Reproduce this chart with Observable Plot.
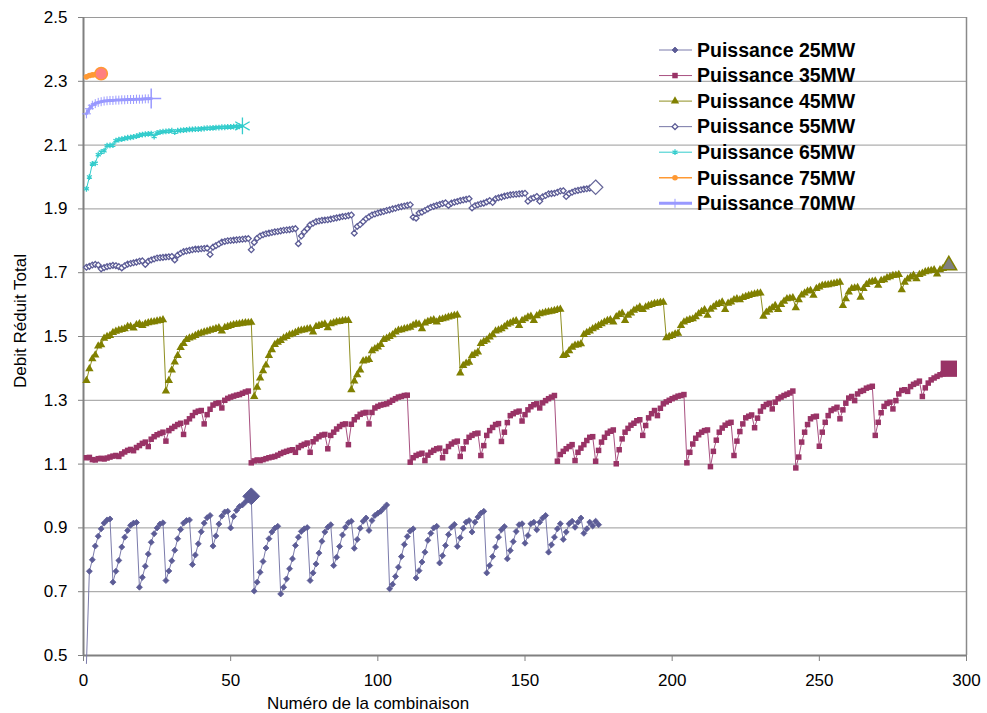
<!DOCTYPE html>
<html><head><meta charset="utf-8">
<script src="https://cdn.jsdelivr.net/npm/d3@7"></script>
<script src="https://cdn.jsdelivr.net/npm/@observablehq/plot@0.6"></script>
<style>
body{margin:0;background:#fff;font-family:"Liberation Sans",Arial,sans-serif;}
#wrap{position:relative;width:987px;height:713px;overflow:hidden;}
.t{position:absolute;font-size:17px;color:#000;white-space:nowrap;line-height:1;}
</style></head><body><div id="wrap"></div>
<script>
// ---- data (x = combination number 1..n) ----
const s25=[0.475,
0.764,0.800,0.843,0.874,0.897,0.915,0.925,0.928,
0.730,0.764,0.798,0.840,0.871,0.892,0.908,0.915,0.917,
0.714,0.745,0.780,0.818,0.855,0.882,0.900,0.912,0.916,
0.735,0.765,0.797,0.830,0.866,0.895,0.915,0.923,0.925,
0.785,0.815,0.850,0.888,0.915,0.932,0.939,
0.843,0.875,0.912,0.937,0.950,0.952,
0.900,0.936,0.955,0.967,0.972,0.981,0.988,0.999,
0.702,0.730,0.761,0.795,0.837,0.866,0.887,0.899,0.905,
0.693,0.714,0.740,0.772,0.803,0.845,0.871,0.889,0.897,0.901,
0.735,0.759,0.787,0.821,0.858,0.887,0.902,0.910,
0.782,0.808,0.842,0.878,0.902,0.916,0.921,
0.836,0.864,0.899,0.921,0.931,
0.892,0.923,0.939,0.946,0.952,0.962,0.972,
0.709,0.723,0.748,0.777,0.810,0.848,0.873,0.890,0.897,
0.743,0.766,0.793,0.824,0.861,0.883,0.900,0.905,
0.790,0.813,0.845,0.879,0.902,0.911,
0.842,0.869,0.899,0.918,0.923,
0.887,0.918,0.934,0.946,0.952,
0.759,0.782,0.810,0.840,0.871,0.894,0.904,
0.803,0.829,0.857,0.889,0.910,0.913,
0.852,0.876,0.913,0.918,0.894,0.918,0.931,0.939,
0.824,0.847,0.871,0.897,0.913,
0.864,0.887,0.913,0.921,0.902,0.918,0.931,
0.883,0.897,0.918,0.906,0.921,0.910];

const s35=[1.120,1.121,1.114,1.113,1.117,1.118,1.116,1.119,1.122,1.125,
1.127,1.124,1.132,1.138,1.143,1.146,1.142,1.152,1.158,1.165,
1.169,1.155,1.178,1.186,1.192,1.196,1.200,1.172,1.205,1.212,
1.218,1.224,1.228,1.193,1.232,1.242,1.252,1.262,1.266,1.268,
1.226,1.255,1.272,1.285,1.290,1.292,1.276,1.300,1.306,1.310,
1.313,1.316,1.318,1.322,1.326,1.329,
1.104,1.110,1.113,1.111,1.114,1.117,1.120,1.122,1.124,1.128,
1.133,1.137,1.140,1.143,1.145,1.137,1.152,1.158,1.162,1.166,
1.137,1.170,1.179,1.186,1.191,1.193,1.148,1.190,1.200,1.210,
1.218,1.224,1.226,1.161,1.225,1.239,1.248,1.256,1.260,1.262,
1.226,1.262,1.276,1.281,1.285,1.287,1.289,1.294,1.300,1.305,
1.310,1.312,1.315,1.316,
1.106,1.120,1.127,1.131,1.134,1.111,1.128,1.137,1.143,1.148,
1.150,1.120,1.140,1.155,1.163,1.169,1.172,1.124,1.148,1.170,
1.184,1.190,1.195,1.197,1.127,1.158,1.190,1.205,1.215,1.224,
1.227,1.171,1.200,1.230,1.252,1.258,1.263,1.266,1.235,1.255,
1.270,1.280,1.286,1.289,1.276,1.292,1.299,1.305,1.310,1.315,
1.109,1.130,1.140,1.148,1.155,1.161,1.111,1.137,1.150,1.161,
1.174,1.184,1.186,1.109,1.143,1.169,1.184,1.197,1.203,1.207,
1.101,1.145,1.179,1.200,1.212,1.222,1.228,1.236,1.239,1.190,
1.221,1.245,1.258,1.268,1.252,1.275,1.289,1.295,1.300,1.305,
1.309,1.313,1.315,1.318,
1.104,1.137,1.163,1.181,1.192,1.200,1.205,1.207,1.092,1.140,
1.175,1.200,1.213,1.222,1.228,1.231,1.127,1.172,1.202,1.226,
1.245,1.250,1.254,1.214,1.244,1.266,1.280,1.287,1.291,1.273,
1.294,1.305,1.310,1.315,1.319,1.323,1.329,
1.088,1.122,1.169,1.200,1.224,1.242,1.248,1.250,1.156,1.200,
1.231,1.252,1.268,1.273,1.278,1.242,1.270,1.291,1.307,1.312,
1.299,1.320,1.328,1.331,1.338,1.341,1.344,
1.190,1.231,1.261,1.281,1.290,1.294,1.273,1.299,1.320,1.331,
1.333,1.328,1.343,1.350,1.354,1.360,1.312,1.339,1.354,1.364,
1.370,1.375,1.380,1.383,1.390,1.399];

const s45=[1.362,1.399,1.430,1.442,1.470,1.474,1.494,1.500,1.503,1.512,
1.516,1.519,1.522,1.524,1.531,1.531,1.526,1.537,1.540,1.534,
1.540,1.543,1.545,1.546,1.548,1.550,1.552,
1.329,1.362,1.395,1.420,1.440,1.465,1.478,1.490,1.495,1.498,
1.503,1.508,1.511,1.514,1.516,1.519,1.522,1.525,1.527,1.517,
1.528,1.531,1.534,1.537,1.538,1.540,1.541,1.543,1.543,1.544,
1.312,1.341,1.370,1.392,1.410,1.440,1.458,1.475,1.482,1.487,
1.495,1.500,1.505,1.508,1.512,1.517,1.519,1.521,1.523,1.525,
1.514,1.531,1.534,1.537,1.539,1.527,1.540,1.543,1.546,1.547,
1.549,1.550,1.550,
1.333,1.360,1.380,1.395,1.423,1.425,1.428,1.455,1.461,1.467,
1.475,1.490,1.494,1.500,1.505,1.514,1.519,1.521,1.524,1.526,
1.529,1.535,1.540,1.538,1.524,1.542,1.547,1.550,1.552,1.545,
1.553,1.555,1.558,1.561,1.563,1.566,1.567,
1.385,1.409,1.416,1.419,1.440,1.446,1.451,1.478,1.484,1.489,
1.498,1.505,1.517,1.520,1.524,1.530,1.538,1.542,1.547,1.549,
1.534,1.550,1.555,1.561,1.563,1.550,1.565,1.571,1.573,1.576,
1.577,1.579,1.581,1.584,1.585,
1.440,1.443,1.455,1.466,1.472,1.474,1.477,1.506,1.512,1.517,
1.524,1.529,1.534,1.540,1.545,1.550,1.552,1.545,1.562,1.569,
1.573,1.550,1.566,1.573,1.582,1.587,1.592,1.584,1.592,1.597,
1.600,1.603,1.604,1.606,1.607,
1.496,1.500,1.503,1.508,1.510,1.534,1.545,1.550,1.553,1.555,
1.562,1.571,1.578,1.584,1.566,1.585,1.592,1.600,1.603,1.608,
1.584,1.604,1.608,1.615,1.618,1.615,1.622,1.625,1.628,1.631,
1.633,1.635,1.636,
1.563,1.576,1.583,1.590,1.597,1.584,1.600,1.610,1.618,1.620,
1.621,1.590,1.615,1.630,1.636,1.642,1.644,1.629,1.650,1.655,
1.660,1.661,1.662,1.664,1.666,1.668,1.670,
1.597,1.618,1.639,1.650,1.652,1.653,1.623,1.650,1.663,1.670,
1.672,1.674,1.660,1.675,1.678,1.684,1.687,1.691,1.692,1.694,
1.646,1.670,1.680,1.686,1.692,1.681,1.694,1.698,1.703,1.705,
1.707,1.709,1.696,1.709,1.713,1.717,1.723];

const s55=[1.717,1.720,1.724,1.726,1.724,1.712,1.716,1.719,1.721,1.723,
1.722,1.719,1.715,1.722,1.727,1.729,1.731,1.733,1.736,1.737,
1.726,1.736,1.740,1.743,1.746,1.747,1.748,1.749,1.750,1.751,
1.740,1.755,1.761,1.766,1.768,1.770,1.772,1.774,1.774,1.775,
1.776,1.777,1.757,1.780,1.785,1.790,1.796,1.798,1.800,1.801,
1.802,1.803,1.804,1.805,1.806,1.807,1.772,1.795,1.808,1.815,
1.819,1.822,1.824,1.826,1.828,1.829,1.831,1.833,1.834,1.835,
1.837,1.838,1.791,1.815,1.828,1.838,1.850,1.855,1.860,1.862,
1.864,1.865,1.866,1.868,1.870,1.872,1.874,1.876,1.877,1.879,
1.881,1.824,1.845,1.851,1.860,1.869,1.875,1.881,1.884,1.887,
1.890,1.892,1.895,1.897,1.900,1.902,1.905,1.907,1.909,1.911,
1.913,1.874,1.871,1.887,1.890,1.895,1.900,1.905,1.908,1.911,
1.914,1.917,1.919,1.911,1.918,1.921,1.923,1.926,1.928,1.930,
1.932,1.903,1.910,1.913,1.916,1.918,1.922,1.926,1.920,1.932,
1.935,1.937,1.940,1.942,1.944,1.945,1.946,1.947,1.948,1.949,
1.924,1.932,1.935,1.939,1.924,1.938,1.942,1.947,1.948,1.949,
1.952,1.956,1.957,1.939,1.948,1.952,1.956,1.958,1.960,1.962,
1.963,1.965,1.966,1.968];

const s65=[1.963,2.000,2.041,2.043,2.070,2.078,2.082,2.098,2.099,2.100,
2.114,2.117,2.119,2.121,2.123,2.124,2.126,2.128,2.131,2.133,
2.134,2.135,2.136,2.127,2.138,2.141,2.142,2.143,2.144,2.145,
2.141,2.145,2.146,2.147,2.148,2.149,2.149,2.150,2.150,2.151,
2.152,2.153,2.153,2.154,2.155,2.155,2.156,2.156,2.157,2.157,
2.158,2.158,2.159,2.160];

const s75=[2.314,2.318,2.320,2.321,2.322,2.324];

const s70=[2.198,2.214,2.225,2.230,2.234,2.236,2.238,2.239,2.240,2.240,
2.241,2.241,2.242,2.242,2.243,2.243,2.243,2.244,2.244,2.244,
2.245,2.245,2.246];

const seriesNames=["Puissance 25MW","Puissance 35MW","Puissance 45MW","Puissance 55MW","Puissance 65MW","Puissance 75MW","Puissance 70MW"];
const highlightX=[57,294,294,174,54,6,23];
const xTicks=[0,50,100,150,200,250,300];
const yTicks=[0.5,0.7,0.9,1.1,1.3,1.5,1.7,1.9,2.1,2.3,2.5];
const xTitle="Numéro de la combinaison";
const yTitle="Debit Réduit Total";

// ---- styles ----
const styles=[
 {line:"#7b7bab",lw:1,symbol:"diamond2",r:2.7,fill:"#5c5c96",stroke:"#5c5c96",sw:0.8,
  big:{symbol:"diamond2",r:7.6,fill:"#5c5c96",stroke:"#5c5c96",sw:1}},
 {line:"#a85080",lw:1,symbol:"square",r:3.1,fill:"#993366",stroke:"none",sw:0,
  big:{symbol:"square",r:9.2,fill:"#993366",stroke:"none",sw:0}},
 {line:"#8f8f20",lw:1,symbol:"triangle",r:3.1,fill:"#808000",stroke:"none",sw:0,
  big:{symbol:"triangle",r:5.8,fill:"#808080",stroke:"#808000",sw:1.5}},
 {line:"#7676a6",lw:1,symbol:"diamond2",r:2.6,fill:"white",stroke:"#5c5c96",sw:1.3,
  big:{symbol:"diamond2",r:6.5,fill:"white",stroke:"#666699",sw:1.2}},
 {line:"#33cccc",lw:1,symbol:"asterisk",r:2.7,fill:"none",stroke:"#33cccc",sw:1.3,
  big:{symbol:"asterisk",r:7.9,fill:"none",stroke:"#33cccc",sw:1.3}},
 {line:"#ff9933",lw:1.5,symbol:"circle",r:2.8,fill:"#ff9933",stroke:"none",sw:0,
  big:{symbol:"circle",r:6.2,fill:"#ff8080",stroke:"#ff9933",sw:1.5}},
 {line:"#9999ff",lw:3,symbol:"plus",r:3.0,fill:"none",stroke:"#9999ff",sw:1,
  big:{symbol:"plus",r:6.5,fill:"none",stroke:"#9999ff",sw:1.5}}
];

const allSeries=[s25,s35,s45,s55,s65,s75,s70];
const tables=allSeries.map(arr=>arr.map((y,i)=>({x:i+1,y})));

const marks=[
  Plot.ruleY(yTicks.filter(d=>d>0.5),{stroke:"#9a9a9a",strokeWidth:1}),
  Plot.ruleX([300],{stroke:"#8a8a8a",strokeWidth:1.5}),
  Plot.axisY({ticks:yTicks,tickSize:5,tickPadding:11,tickFormat:d3.format(".1f"),label:null,fontSize:17,stroke:"#808080"}),
  Plot.axisX({ticks:xTicks,tickSize:6,tickPadding:12,tickFormat:d3.format("d"),label:null,fontSize:17,stroke:"#808080"}),
  Plot.ruleY([0.5],{stroke:"#808080",strokeWidth:2}),
  Plot.ruleX([0],{stroke:"#808080",strokeWidth:2})
];
tables.forEach((t,k)=>{
  const s=styles[k];
  marks.push(Plot.line(t,{x:"x",y:"y",stroke:s.line,strokeWidth:s.lw}));
  marks.push(Plot.dot(t.filter(d=>d.y>=0.5 && d.x!==highlightX[k]),{x:"x",y:"y",symbol:s.symbol,r:s.r,fill:s.fill,stroke:s.stroke,strokeWidth:s.sw}));
});
tables.forEach((t,k)=>{
  const b=styles[k].big;
  marks.push(Plot.dot(t.filter(d=>d.x===highlightX[k]),{x:"x",y:"y",symbol:b.symbol,r:b.r,fill:b.fill,stroke:b.stroke,strokeWidth:b.sw}));
});

const chart=Plot.plot({
  width:987,height:713,
  marginLeft:83,marginRight:21,marginTop:17,marginBottom:58,
  x:{domain:[0,300]},
  y:{domain:[0.5,2.5]},
  style:{fontFamily:"'Liberation Sans', Arial, sans-serif",fontSize:"17px",color:"#000",background:"white",overflow:"visible"},
  marks
});
const wrap=document.getElementById("wrap");
wrap.appendChild(chart);

// axis titles
const xt=document.createElement("div");
xt.className="t";xt.textContent=xTitle;
xt.style.left="368px";xt.style.top="703px";xt.style.transform="translate(-50%,-50%)";
wrap.appendChild(xt);
const yt=document.createElement("div");
yt.className="t";yt.textContent=yTitle;
yt.style.left="20px";yt.style.top="321px";yt.style.transform="translate(-50%,-50%) rotate(-90deg)";
wrap.appendChild(yt);

// legend
const lg=d3.select(wrap).append("svg").attr("width",260).attr("height",200)
  .style("position","absolute").style("left","650px").style("top","30px");
const symMap={diamond2:d3.symbolDiamond2,square:d3.symbolSquare,triangle:d3.symbolTriangle,asterisk:d3.symbolAsterisk,circle:d3.symbolCircle,plus:d3.symbolPlus};
seriesNames.forEach((name,k)=>{
  const s=styles[k];
  const cy=20+k*25.55;
  const g=lg.append("g").attr("transform",`translate(0,${cy})`);
  g.append("line").attr("x1",9).attr("x2",42).attr("y1",0).attr("y2",0).attr("stroke",s.line).attr("stroke-width",s.lw);
  g.append("path").attr("transform","translate(25,0)")
   .attr("d",d3.symbol(symMap[s.symbol],Math.PI*s.r*s.r)())
   .attr("fill",s.fill).attr("stroke",s.stroke).attr("stroke-width",s.sw);
  g.append("text").attr("x",47).attr("y",0).attr("dy","0.35em")
   .attr("font-family","'Liberation Sans', Arial, sans-serif").attr("font-weight","bold").attr("font-size",19.5)
   .text(name);
});
</script></body></html>
